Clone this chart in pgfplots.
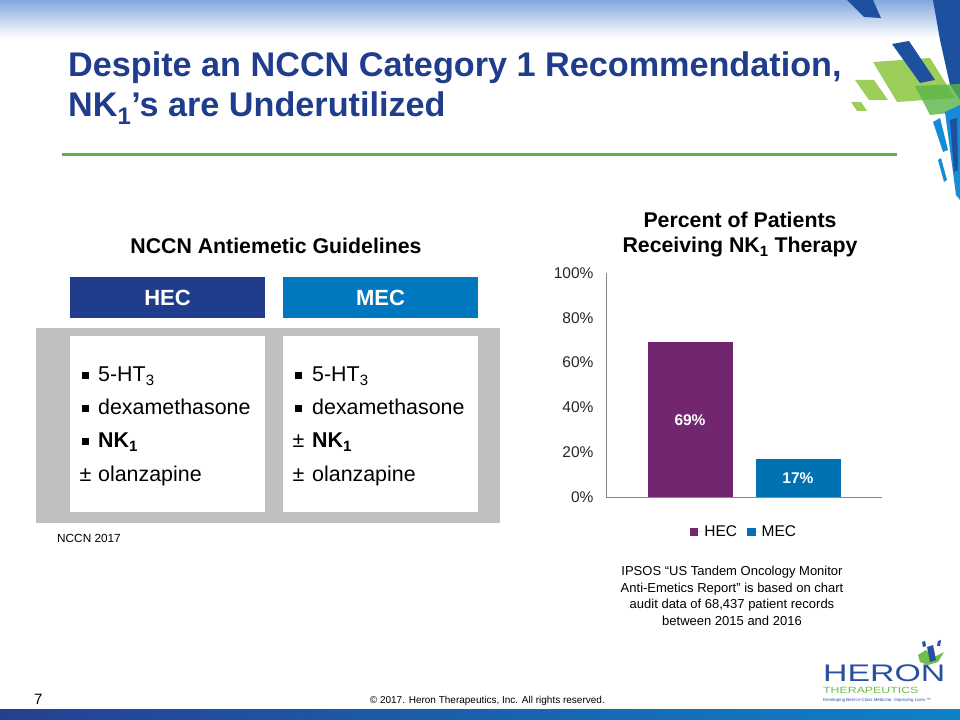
\documentclass[border=0pt]{standalone}
\usepackage{pgfplots}
\pgfplotsset{compat=1.18}
\usepackage{fontspec}
\setmainfont{Liberation Sans}
\definecolor{titleblue}{RGB}{31,61,140}
\definecolor{hecbox}{RGB}{31,61,140}
\definecolor{mecbox}{RGB}{0,120,192}
\definecolor{boxgray}{RGB}{191,191,191}
\definecolor{hecbar}{RGB}{114,38,112}
\definecolor{mecbar}{RGB}{0,113,177}
\definecolor{linegreen}{RGB}{93,179,71}
\definecolor{axisgray}{RGB}{135,135,135}
\definecolor{topblue}{RGB}{130,168,222}
\definecolor{barleft}{RGB}{38,64,145}
\definecolor{barmid}{RGB}{74,100,170}
\definecolor{barright}{RGB}{14,130,200}
\definecolor{decoblue}{RGB}{30,80,160}
\definecolor{decolight}{RGB}{20,140,215}
\definecolor{decogreen}{RGB}{140,198,63}
\definecolor{decogreen2}{RGB}{90,180,70}
\definecolor{logoblue}{RGB}{40,80,160}
\definecolor{logogreen}{RGB}{110,190,75}
\newcommand{\fs}[1]{\fontsize{#1bp}{#1bp}\selectfont}
\begin{document}
\begin{tikzpicture}[x=1bp,y=1bp]
\useasboundingbox (0,0) rectangle (960,720);
\fill[white] (0,0) rectangle (960,720);
% top gradient
\shade[top color=topblue, bottom color=white] (0,682) rectangle (960,720);
% bottom bar
\shade[left color=barleft, middle color=barmid, right color=barright] (0,0) rectangle (960,10);

\begin{scope}[shift={(0,720)}, yscale=-1]
% decorations top right
\fill[decoblue] (847,0) -- (873,0) -- (881,18) -- (864,17) -- cycle;
\fill[decoblue] (933,0) -- (960,0) -- (960,100) -- (950,85) -- (940,40) -- cycle;
\fill[decogreen, opacity=0.85] (873,62) -- (930,58) -- (955,98) -- (897,102) -- cycle;
\fill[decoblue] (892,44) -- (909,41) -- (935,80) -- (920,83) -- cycle;
\fill[decogreen, opacity=0.85] (855,80) -- (874,80) -- (888,100) -- (869,100) -- cycle;
\fill[decogreen, opacity=0.85] (851,102) -- (861,102) -- (867,111) -- (857,111) -- cycle;
\fill[decogreen2, opacity=0.8] (915,86) -- (960,84) -- (960,112) -- (930,115) -- cycle;
\fill[decolight] (945,112) -- (960,105) -- (960,200) -- (956,195) -- cycle;
\fill[decolight] (933,122) -- (940,118) -- (948,150) -- (943,152) -- cycle;
\fill[decoblue] (950,120) -- (957,118) -- (958,170) -- (954,172) -- cycle;
\fill[decolight] (938,160) -- (941,158) -- (947,180) -- (944,182) -- cycle;

% title
\node[anchor=base west, text=titleblue, font=\fs{34.2}\bfseries, inner sep=0pt] at (68,77)
  {Despite an NCCN Category 1 Recommendation,};
\node[anchor=base west, text=titleblue, font=\fs{34.2}\bfseries, inner sep=0pt] at (68,117)
  {NK\textsubscript{1}’s are Underutilized};
\draw[linegreen, line width=3bp] (62,155) -- (897,155);

% left section
\node[anchor=base, font=\fs{21.3}\bfseries, inner sep=0pt] at (276,254) {NCCN Antiemetic Guidelines};
\fill[hecbox] (70,277) rectangle (265,318);
\fill[mecbox] (283,277) rectangle (478,318);
\node[font=\fs{22}\bfseries, text=white, inner sep=0pt] at (167.5,297.5) {HEC};
\node[font=\fs{22}\bfseries, text=white, inner sep=0pt] at (380.5,297.5) {MEC};
\fill[boxgray] (36,328) rectangle (500,523);
\fill[white] (70,336) rectangle (265,512);
\fill[white] (283,336) rectangle (478,512);
% HEC list
\fill (82,405.2) rectangle (88.5,411.7);
\fill (82,372.2) rectangle (88.5,378.7);
\fill (82,438.2) rectangle (88.5,444.7);
\node[anchor=base west, font=\fs{21.4}, inner sep=0pt] at (79.5,481.5) {±};
\node[anchor=base west, font=\fs{21.4}, inner sep=0pt] at (98,382) {5-HT\textsubscript{3}};
\node[anchor=base west, font=\fs{21.4}, inner sep=0pt] at (98,415) {dexamethasone};
\node[anchor=base west, font=\fs{21.4}\bfseries, inner sep=0pt] at (98,448) {NK\textsubscript{1}};
\node[anchor=base west, font=\fs{21.4}, inner sep=0pt] at (98,481.5) {olanzapine};
% MEC list
\fill (295,372.2) rectangle (301.5,378.7);
\fill (295,405.2) rectangle (301.5,411.7);
\node[anchor=base west, font=\fs{21.4}, inner sep=0pt] at (292.5,448) {±};
\node[anchor=base west, font=\fs{21.4}, inner sep=0pt] at (292.5,481.5) {±};
\node[anchor=base west, font=\fs{21.4}, inner sep=0pt] at (312,382) {5-HT\textsubscript{3}};
\node[anchor=base west, font=\fs{21.4}, inner sep=0pt] at (312,415) {dexamethasone};
\node[anchor=base west, font=\fs{21.4}\bfseries, inner sep=0pt] at (312,448) {NK\textsubscript{1}};
\node[anchor=base west, font=\fs{21.4}, inner sep=0pt] at (312,481.5) {olanzapine};
\node[anchor=base west, font=\fs{11.8}, inner sep=0pt] at (57,543) {NCCN 2017};

% chart title
\node[anchor=base, font=\fs{21.3}\bfseries, inner sep=0pt] at (740,228) {Percent of Patients};
\node[anchor=base, font=\fs{21.3}\bfseries, inner sep=0pt] at (740,253) {Receiving NK\textsubscript{1} Therapy};

% source note
\node[anchor=base, font=\fs{13}, inner sep=0pt] at (732,576) {IPSOS “US Tandem Oncology Monitor};
\node[anchor=base, font=\fs{13}, inner sep=0pt] at (732,592.5) {Anti-Emetics Report” is based on chart};
\node[anchor=base, font=\fs{13}, inner sep=0pt] at (732,609) {audit data of 68,437 patient records};
\node[anchor=base, font=\fs{13}, inner sep=0pt] at (732,625.5) {between 2015 and 2016};

% footer
\node[anchor=base west, font=\fs{15}, inner sep=0pt] at (34,705) {7};
\node[anchor=base east, font=\fs{10}, inner sep=0pt] at (605,704) {© 2017. Heron Therapeutics, Inc. All rights reserved.};

% logo
\node[anchor=base west, inner sep=0pt, text=logoblue] at (823,682)
  {\scalebox{1.41}[1]{\fs{24}HERON}};
\node[anchor=base west, inner sep=0pt, text=logogreen] at (823,693.5)
  {\scalebox{1.37}[1]{\fs{9}THERAPEUTICS}};
\node[anchor=base west, inner sep=0pt, text=logoblue] at (823,702)
  {\fs{4.4}Developing Best-in-Class Medicine. Improving Lives.™};
\fill[logogreen] (918,655) -- (926,650) -- (934,657) -- (944,652) -- (938,662) -- (928,665) -- (920,662) -- cycle;
\fill[logoblue] (927,647) -- (933,645) -- (936,660) -- (930,662) -- cycle;
\fill[logoblue] (922,642) -- (925,641) -- (926,646) -- (923,647) -- cycle;
\fill[logoblue] (938,641) -- (941,640) -- (940,646) -- (937,646) -- cycle;
\end{scope}

% chart
\begin{axis}[
  at={(606bp,223bp)}, anchor=south west,
  scale only axis, width=276bp, height=224bp,
  xmin=-0.778, xmax=1.778, ymin=0, ymax=100,
  axis x line*=bottom, axis y line*=left,
  axis line style={draw=axisgray, line width=0.8bp},
  xtick=\empty,
  ytick={0,20,40,60,80,100},
  yticklabels={0\%,20\%,40\%,60\%,80\%,100\%},
  major tick length=0pt,
  /pgf/number format/assume math mode=true,
  yticklabel style={font=\fs{15.5}, text=black!85, xshift=-9bp},
  legend style={at={(0.5,-0.156)}, anchor=center, draw=none, fill=none,
    font=\fs{15.5}, legend columns=2,
    /tikz/every even column/.append style={column sep=8bp}},
  legend image code/.code={\fill[#1] (0bp,-4.3bp) rectangle (8.5bp,4.3bp);
    \path (0bp,0bp) -- (12.5bp,0bp);},
  visualization depends on=rawy \as \rawy,
  nodes near coords={\pgfmathprintnumber[assume math mode=true]{\pgfplotspointmeta}\%},
  every node near coord/.append style={anchor=center, font=\fs{15.5}\bfseries,
    text=white, shift={(axis direction cs:0,-\rawy/2)}},
]
\addplot[ybar, bar width=0.787, bar shift=0, fill=hecbar, draw=none] coordinates {(0,69)};
\addplot[ybar, bar width=0.787, bar shift=0, fill=mecbar, draw=none] coordinates {(1,17)};
\legend{HEC,MEC}
\end{axis}
\end{tikzpicture}
\end{document}
